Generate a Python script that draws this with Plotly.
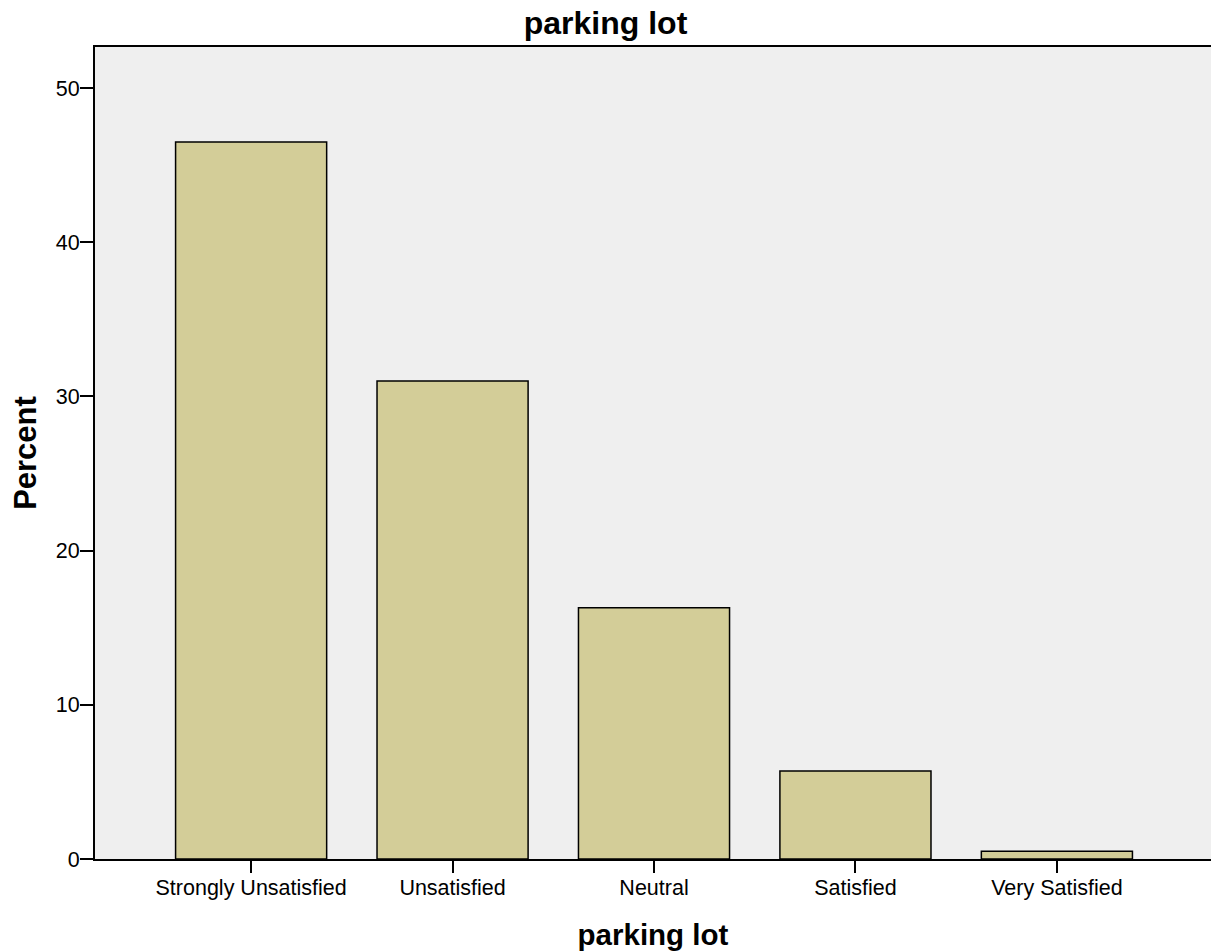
import plotly.graph_objects as go

categories = ["Strongly Unsatisfied", "Unsatisfied", "Neutral", "Satisfied", "Very Satisfied"]
percent = [46.5, 31.0, 16.3, 5.7, 0.5]
y_ticks = [0, 10, 20, 30, 40, 50]

FONT = "Liberation Sans, Arial, sans-serif"

fig = go.Figure()

fig.add_trace(
    go.Bar(
        x=list(range(len(categories))),
        y=percent,
        width=0.75,
        marker=dict(color="#d3cd98", line=dict(color="#000000", width=1.5)),
        hoverinfo="x+y",
    )
)

fig.update_xaxes(
    tickmode="array",
    tickvals=list(range(len(categories))),
    ticktext=categories,
    range=[-0.775, 4.765],
    showline=True,
    linecolor="#000000",
    linewidth=2,
    mirror=True,
    ticks="outside",
    ticklen=12,
    tickwidth=2,
    tickcolor="#000000",
    ticklabelstandoff=-4,
    tickfont=dict(family=FONT, size=21.5, color="#000000"),
    showgrid=False,
    zeroline=False,
    title=dict(text="<b>parking lot</b>", font=dict(family=FONT, size=29.5, color="#000000"), standoff=28),
)

fig.update_yaxes(
    range=[0, 52.66],
    tickmode="array",
    tickvals=y_ticks,
    showline=True,
    linecolor="#000000",
    linewidth=2,
    ticks="outside",
    ticklen=13,
    tickwidth=2,
    tickcolor="#000000",
    ticklabelstandoff=-4,
    tickfont=dict(family=FONT, size=21.5, color="#000000"),
    showgrid=False,
    zeroline=False,
    title=dict(text="<b>Percent</b>", font=dict(family=FONT, size=31, color="#000000"), standoff=10),
)

fig.update_layout(
    width=1211,
    height=951,
    paper_bgcolor="#ffffff",
    plot_bgcolor="#efefef",
    margin=dict(l=95, r=0, t=47, b=92),
    showlegend=False,
    bargap=0.25,
    title=dict(
        text="<b>parking lot</b>",
        x=0.5,
        xref="container",
        xanchor="center",
        y=1 - 23 / 951,
        yanchor="middle",
        font=dict(family=FONT, size=32, color="#000000"),
    ),
)

fig.write_html(
    "out.html",
    config={"displayModeBar": False},
    post_script="document.body.style.margin='0';document.body.style.overflow='hidden';",
)
